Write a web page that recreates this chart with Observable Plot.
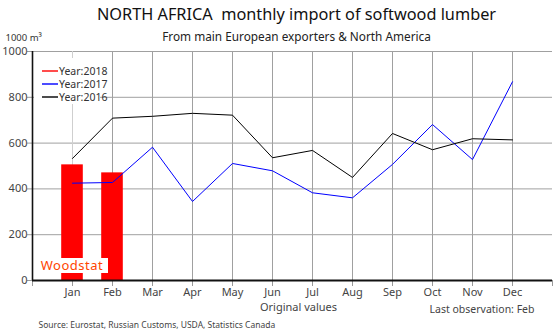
<!DOCTYPE html>
<html><head><meta charset="utf-8">
<script src="https://cdn.jsdelivr.net/npm/d3@7"></script>
<script src="https://cdn.jsdelivr.net/npm/@observablehq/plot@0.6"></script>
<style>
body{margin:0;background:#fff;}
svg{font-family:"Noto Sans","Open Sans",sans-serif;}
</style></head>
<body><div id="chart"></div>
<script>
const months = ["Jan","Feb","Mar","Apr","May","Jun","Jul","Aug","Sep","Oct","Nov","Dec"];
const y2016 = [533,709,717,730,722,536,568,450,642,571,619,614];
const y2017 = [425,428,582,345,511,479,383,361,507,681,528,868];
const y2018 = [505,470];
const yTicks = [0,200,400,600,800,1000];
const series = [
  {name:"Year:2018", color:"#ff0000"},
  {name:"Year:2017", color:"#0000ff"},
  {name:"Year:2016", color:"#000000"}
];

const d16 = y2016.map((v,i)=>({m:i+1,v}));
const d17 = y2017.map((v,i)=>({m:i+1,v}));
const d18 = y2018.map((v,i)=>({m:i+1,v}));
const mIdx = d3.range(1,13);
const xTickPos = d3.range(0,14);
const font = '"Noto Sans","Open Sans",sans-serif';
const T = (o)=>Object.assign({lineAnchor:"middle"}, o);

const chart = Plot.plot({
  width:560, height:334,
  marginLeft:32, marginRight:8, marginTop:51, marginBottom:54,
  style:{fontFamily:font, fontSize:"11px", color:"#333", background:"#fff"},
  x:{domain:[0,13], axis:null},
  y:{domain:[0,1000], axis:null},
  marks:[
    Plot.gridY(yTicks.filter(d=>d>0), {stroke:"#a0a0a0", strokeOpacity:1}),
    Plot.gridX(mIdx.filter(d=>d>1), {stroke:"#a0a0a0", strokeOpacity:1}),
    Plot.gridX([1], {stroke:"#cfcfcf", strokeOpacity:1}),
    Plot.rectY(d18, {x1:d=>d.m-0.27, x2:d=>d.m+0.27, y1:0, y2:"v", fill:"#ff0000"}),
    Plot.line(d17, {x:"m", y:"v", stroke:"#0000ff", strokeWidth:1}),
    Plot.line(d16, {x:"m", y:"v", stroke:"#000", strokeWidth:1}),
    // tick marks
    Plot.gridX(xTickPos, {insetTop:229, insetBottom:-6, stroke:"#999", strokeOpacity:1}),
    Plot.gridY(yTicks, {insetLeft:-5, insetRight:520, stroke:"#999", strokeOpacity:1}),
    // axis lines
    Plot.gridY([0], {stroke:"#111", strokeWidth:2, strokeOpacity:1}),
    Plot.gridX([0], {stroke:"#111", strokeWidth:1.6, strokeOpacity:1}),
    // tick labels
    Plot.text(mIdx, {x:d=>d, y:0, text:d=>months[d-1], dy:12, fontSize:11, fill:"#444"}),
    Plot.text(yTicks, {x:0, y:d=>d, text:d=>String(d), dx:-5, textAnchor:"end", fontSize:11, fill:"#444"}),
    Plot.text(["NORTH AFRICA  monthly import of softwood lumber"], T({frameAnchor:"top", dx:4, dy:-37, fontSize:16.3, fill:"#111"})),
    Plot.text(["From main European exporters & North America"], T({frameAnchor:"top", dx:4, dy:-14, fontSize:11.8, fill:"#222"})),
    Plot.text(["1000 m³"], T({frameAnchor:"top-left", dx:-27, dy:-14, fontSize:9.5, fill:"#333", textAnchor:"start"})),
    Plot.text(["Original values"], T({frameAnchor:"bottom", dx:6, dy:27, fontSize:11, fill:"#444"})),
    Plot.text(["Last observation: Feb"], T({frameAnchor:"bottom-right", dx:-18, dy:29, fontSize:10.5, fill:"#444", textAnchor:"end"})),
    Plot.text(["Source: Eurostat, Russian Customs, USDA, Statistics Canada"], T({frameAnchor:"bottom-left", dx:6, dy:45, fontSize:8.5, fill:"#444", textAnchor:"start"}))
  ]
});

const svg = d3.select(chart);
// legend with white box
const lg = svg.append("g").attr("transform","translate(42,71)");
lg.append("rect").attr("x",-8).attr("y",-13).attr("width",66).attr("height",46).attr("fill","#fff");
series.forEach((s,i)=>{
  const g = lg.append("g").attr("transform",`translate(0,${i*13})`);
  g.append("rect").attr("x",0).attr("y",-0.7).attr("width",16).attr("height",1.4).attr("fill",s.color);
  g.append("text").attr("x",17).attr("y",3.8).attr("text-anchor","start").attr("font-size",10.5).attr("fill","#333").attr("font-family",font).text(s.name);
});
const w = svg.append("g").attr("transform","translate(37,258)");
w.append("rect").attr("width",71).attr("height",15).attr("fill","#fff");
w.append("text").attr("x",35).attr("y",12).attr("text-anchor","middle").attr("font-size",13).attr("fill","#ff4500").attr("font-family",font).attr("letter-spacing","0.5").text("Woodstat");
document.getElementById("chart").appendChild(chart);
</script></body></html>
